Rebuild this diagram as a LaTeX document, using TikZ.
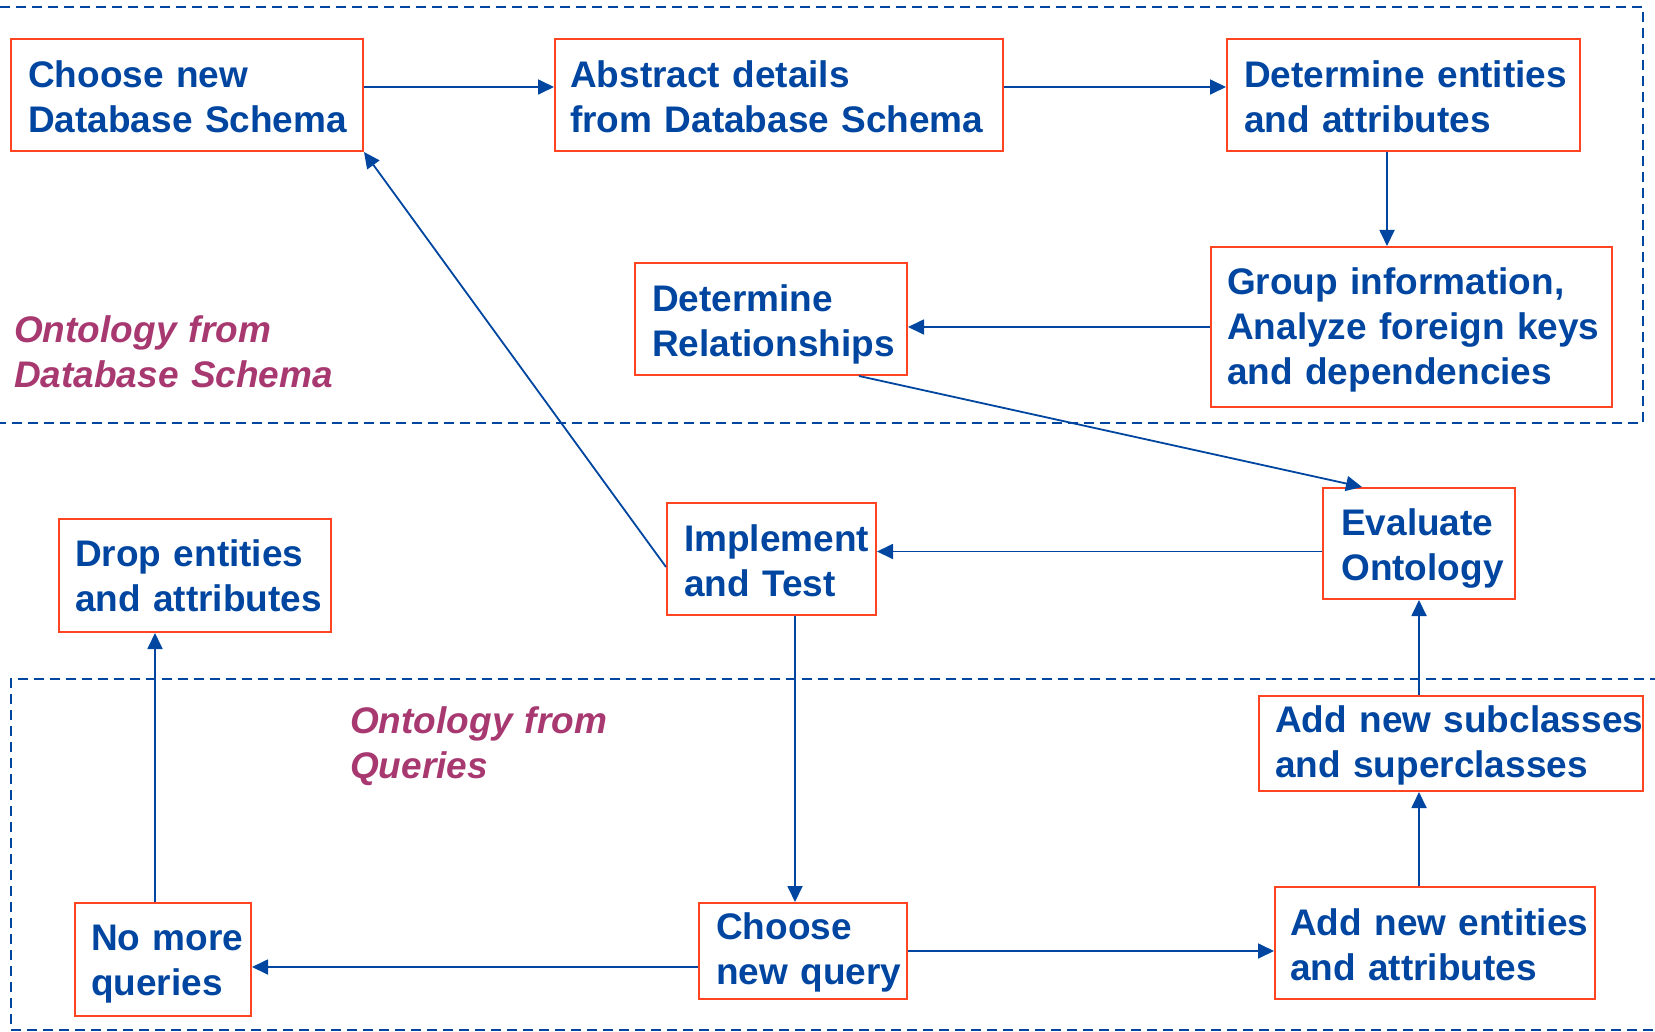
\documentclass[tikz,border=0pt]{standalone}
\usepackage{fontspec}
\setmainfont{Liberation Sans}
\usetikzlibrary{arrows.meta}
\definecolor{flowblue}{RGB}{0,70,160}
\definecolor{boxred}{RGB}{255,68,34}
\definecolor{plum}{RGB}{168,56,112}
\begin{document}
\begin{tikzpicture}[x=1pt,y=-1pt,
  stepbox/.style={draw=boxred,line width=2pt,inner sep=0pt},
  steptext/.style={text=flowblue,font=\fontsize{37pt}{45pt}\selectfont\bfseries,
    text width=500pt,align=left,inner sep=0pt,anchor=base west},
  areatext/.style={text=plum,font=\fontsize{37pt}{45pt}\selectfont\bfseries\itshape,
    text width=500pt,align=left,inner sep=0pt,anchor=base west},
  arr/.style={draw=flowblue,line width=1.8pt,-{Triangle[length=16pt,width=15pt]}},
  area/.style={draw=flowblue,line width=2pt,dash pattern=on 10pt off 6pt}]
\useasboundingbox (0,0) rectangle (1655,1032);

% dashed areas
\draw[area] (0,7) -- (1643,7) -- (1643,423) -- (0,423);
\draw[area] (1660,679) -- (11,679) -- (11,1030) -- (1660,1030);

% area captions
\node[areatext] (capdb) at (14,343) {Ontology from\\Database Schema};
\node[areatext] (capq) at (350,733) {Ontology from\\Queries};

% process steps
\node[stepbox,minimum width=352pt,minimum height=112pt] (b1) at (187,95) {};
\node[steptext] (b1t) at ([xshift=18pt,yshift=-50pt]b1.north west) {Choose new\\Database Schema};

\node[stepbox,minimum width=448pt,minimum height=112pt] (b2) at (779,95) {};
\node[steptext] (b2t) at ([xshift=16pt,yshift=-50pt]b2.north west) {Abstract details\\from Database Schema};

\node[stepbox,minimum width=353pt,minimum height=112pt] (b3) at (1403.5,95) {};
\node[steptext] (b3t) at ([xshift=18pt,yshift=-50pt]b3.north west) {Determine entities\\and attributes};

\node[stepbox,minimum width=401pt,minimum height=160pt] (b4) at (1411.5,327) {};
\node[steptext] (b4t) at ([xshift=17pt,yshift=-49pt]b4.north west) {Group information,\\Analyze foreign keys\\and dependencies};

\node[stepbox,minimum width=272pt,minimum height=112pt] (dr) at (771,319) {};
\node[steptext] (drt) at ([xshift=18pt,yshift=-50pt]dr.north west) {Determine\\Relationships};

\node[stepbox,minimum width=209pt,minimum height=112pt] (im) at (771.5,559) {};
\node[steptext] (imt) at ([xshift=18pt,yshift=-49pt]im.north west) {Implement\\and Test};

\node[stepbox,minimum width=192pt,minimum height=111pt] (ev) at (1419,543.5) {};
\node[steptext] (evt) at ([xshift=19pt,yshift=-48pt]ev.north west) {Evaluate\\Ontology};

\node[stepbox,minimum width=384pt,minimum height=95pt] (as) at (1451,743.5) {};
\node[steptext] (ast) at ([xshift=17pt,yshift=-37pt]as.north west) {Add new subclasses\\and superclasses};

\node[stepbox,minimum width=272pt,minimum height=113pt] (dp) at (195,575.5) {};
\node[steptext] (dpt) at ([xshift=17pt,yshift=-48pt]dp.north west) {Drop entities\\and attributes};

\node[stepbox,minimum width=176pt,minimum height=113pt] (nm) at (163,959.5) {};
\node[steptext] (nmt) at ([xshift=17pt,yshift=-48pt]nm.north west) {No more\\queries};

\node[stepbox,minimum width=208pt,minimum height=96pt] (cq) at (803,951) {};
\node[steptext] (cqt) at ([xshift=18pt,yshift=-37pt]cq.north west) {Choose\\new query};

\node[stepbox,minimum width=320pt,minimum height=112pt] (ae) at (1435,943) {};
\node[steptext] (aet) at ([xshift=16pt,yshift=-49pt]ae.north west) {Add new entities\\and attributes};

% connectors
\draw[arr] ([yshift=8pt]b1.east) -- ([yshift=8pt]b2.west);
\draw[arr] ([yshift=8pt]b2.east) -- ([yshift=8pt]b3.west);
\draw[arr] ([xshift=-16.5pt]b3.south) -- ([xshift=-24.5pt]b4.north);
\draw[arr] (b4.west) -- ([yshift=-8pt]dr.east);
\draw[arr] ([xshift=88pt]dr.south) -- ([xshift=-57pt]ev.north);
\draw[arr] ([yshift=-8pt]ev.west) -- ([yshift=7.5pt]im.east);
\draw[arr] ([yshift=-8pt]im.west) -- (b1.south east);
\draw[arr] ([xshift=23.5pt]im.south) -- ([xshift=-8pt]cq.north);
\draw[arr] (cq.east) -- ([yshift=-8pt]ae.west);
\draw[arr] ([xshift=-16pt]ae.north) -- ([xshift=-32pt]as.south);
\draw[arr] ([xshift=-32pt]as.north) -- (ev.south);
\draw[arr] ([yshift=-16pt]cq.west) -- ([yshift=-7.5pt]nm.east);
\draw[arr] ([xshift=-8pt]nm.north) -- ([xshift=-40pt]dp.south);
\end{tikzpicture}
\end{document}
